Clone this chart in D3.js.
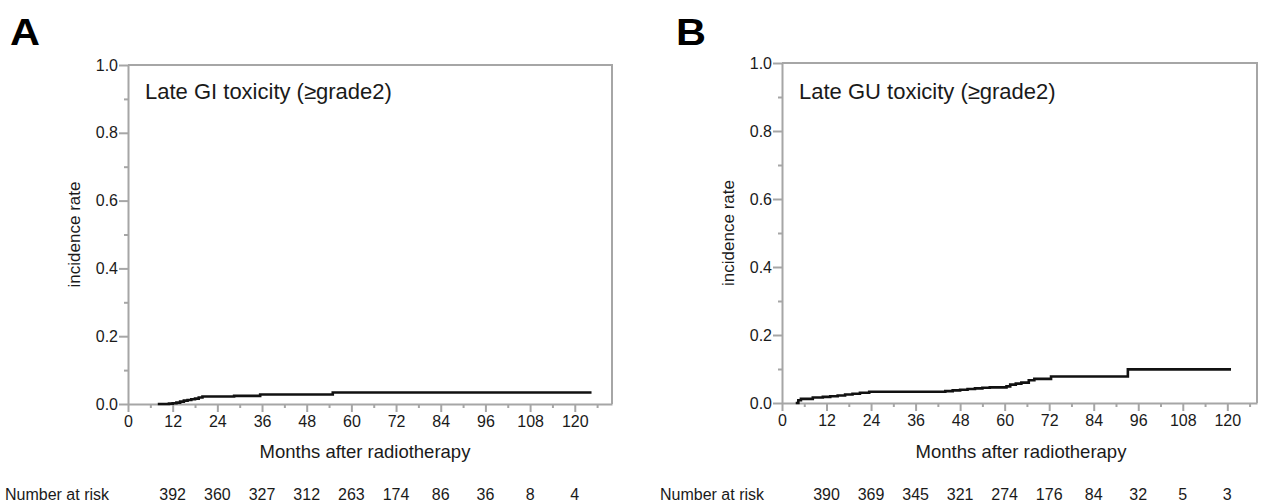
<!DOCTYPE html>
<html>
<head>
<meta charset="utf-8">
<script src="https://cdn.jsdelivr.net/npm/d3@7"></script>
<style>
  body { margin: 0; background: #fff; }
  text { font-family: "Liberation Sans", Arial, Helvetica, sans-serif; fill: #1a1a1a; }
</style>
</head>
<body>
<div id="viz-container"></div>
<script>
// ---- data ----
let giMonths = [8, 11, 12, 13, 14, 15, 16, 17, 18, 19, 20, 28.5, 35.5, 55, 124.5];
let giRate   = [0, 0.001, 0.002, 0.004, 0.007, 0.010, 0.012, 0.014, 0.016, 0.019, 0.022, 0.024, 0.028, 0.034, 0.034];

let guMonths = [3.7, 4.4, 5.1, 8.3, 11, 13, 15, 17, 19, 21, 23.5, 44, 46, 48, 50, 52, 54, 56, 60.5, 61.5, 63, 64.5, 66.5, 68, 72.5, 93.2, 121];
let guRate   = [0, 0.008, 0.012, 0.016, 0.018, 0.020, 0.022, 0.025, 0.027, 0.030, 0.033, 0.035, 0.037, 0.039, 0.041, 0.043, 0.045, 0.046, 0.049, 0.054, 0.057, 0.060, 0.067, 0.071, 0.078, 0.099, 0.099];

let riskMonths = [12, 24, 36, 48, 60, 72, 84, 96, 108, 120];
let giRisk = [392, 360, 327, 312, 263, 174, 86, 36, 8, 4];
let guRisk = [390, 369, 345, 321, 274, 176, 84, 32, 5, 3];

let xMajor = [0, 12, 24, 36, 48, 60, 72, 84, 96, 108, 120];
let xMinor = [6, 18, 30, 42, 54, 66, 78, 90, 102, 114, 126];
let yMajor = [0, 0.2, 0.4, 0.6, 0.8, 1.0];
let yMinor = [0.1, 0.3, 0.5, 0.7, 0.9];

let grey = "#a6a6a6";

let viz = d3.select("#viz-container")
  .append("svg")
    .attr("width", 1261)
    .attr("height", 503);

function panel(opt) {
  let x = d3.scaleLinear().domain([0, opt.xmax]).range([opt.left, opt.right]);
  let y = d3.scaleLinear().domain([0, 1]).range([opt.bottom, opt.top]);
  let g = viz.append("g");

  // panel letter
  g.append("text")
    .text(opt.letter)
    .attr("x", opt.letterX)
    .attr("y", 45)
    .attr("font-size", 37)
    .attr("font-weight", "bold")
    .attr("textLength", 30)
    .attr("lengthAdjust", "spacingAndGlyphs")
    .style("fill", "#000");

  // box (top and right)
  g.append("path")
    .attr("d", "M" + x(0) + "," + y(1) + "H" + x(opt.xmax) + "V" + y(0))
    .attr("fill", "none")
    .attr("stroke", grey)
    .attr("stroke-width", 2);

  // minor ticks first
  g.append("g")
    .attr("transform", "translate(0," + y(0) + ")")
    .call(d3.axisBottom(x).tickValues(xMinor).tickSize(4).tickFormat(""))
    .call(a => a.select(".domain").remove())
    .call(a => a.selectAll("line").attr("stroke", grey).attr("stroke-width", 2));

  g.append("g")
    .attr("transform", "translate(" + x(0) + ",0)")
    .call(d3.axisLeft(y).tickValues(yMinor).tickSize(4).tickFormat(""))
    .call(a => a.select(".domain").remove())
    .call(a => a.selectAll("line").attr("stroke", grey).attr("stroke-width", 2));

  // major axes
  let xa = g.append("g")
    .attr("transform", "translate(0," + y(0) + ")")
    .call(d3.axisBottom(x).tickValues(xMajor).tickSizeInner(8).tickSizeOuter(0).tickPadding(4));
  let ya = g.append("g")
    .attr("transform", "translate(" + x(0) + ",0)")
    .call(d3.axisLeft(y).tickValues(yMajor).tickSizeInner(9).tickSizeOuter(0).tickPadding(1).tickFormat(d3.format(".1f")));

  [xa, ya].forEach(a => {
    a.select(".domain").attr("stroke", grey).attr("stroke-width", 2);
    a.selectAll("line").attr("stroke", grey).attr("stroke-width", 2);
    a.selectAll("text")
      .attr("font-size", 16)
      .attr("font-family", "Liberation Sans, Arial, sans-serif")
      .style("fill", "#1a1a1a");
  });

  // curve
  let pts = opt.months.map((m, i) => [m, opt.rate[i]]);
  g.append("path")
    .datum(pts)
    .attr("d", d3.line().x(d => x(d[0])).y(d => y(d[1])).curve(d3.curveStepAfter))
    .attr("fill", "none")
    .attr("stroke", "#111")
    .attr("stroke-width", 2.6);

  // title inside box
  g.append("text")
    .text(opt.title)
    .attr("x", x(0) + 17)
    .attr("y", 99)
    .attr("font-size", 22);

  // axis titles
  g.append("text")
    .text("incidence rate")
    .attr("transform", "translate(" + (x(0) - 48) + "," + ((y(0) + y(1)) / 2) + ") rotate(-90)")
    .attr("text-anchor", "middle")
    .attr("font-size", 17);

  g.append("text")
    .text("Months after radiotherapy")
    .attr("x", opt.titleX)
    .attr("y", 458)
    .attr("text-anchor", "middle")
    .attr("font-size", 18.5);

  // number at risk
  g.append("text")
    .text("Number at risk")
    .attr("x", opt.riskLabelX)
    .attr("y", 500)
    .attr("font-size", 16);

  g.selectAll(".risk").data(opt.risk).enter()
    .append("text")
      .attr("class", "risk")
      .text(d => d)
      .attr("x", (d, i) => x(riskMonths[i]))
      .attr("y", 500)
      .attr("text-anchor", "middle")
      .attr("font-size", 16);
}

panel({
  letter: "A", letterX: 10, title: "Late GI toxicity (\u2265grade2)",
  left: 128, right: 612, top: 65, bottom: 404, xmax: 130,
  months: giMonths, rate: giRate, risk: giRisk,
  titleX: 365, riskLabelX: 5
});

panel({
  letter: "B", letterX: 676, title: "Late GU toxicity (\u2265grade2)",
  left: 782, right: 1257, top: 63, bottom: 403, xmax: 128,
  months: guMonths, rate: guRate, risk: guRisk,
  titleX: 1021, riskLabelX: 660
});
</script>
</body>
</html>
